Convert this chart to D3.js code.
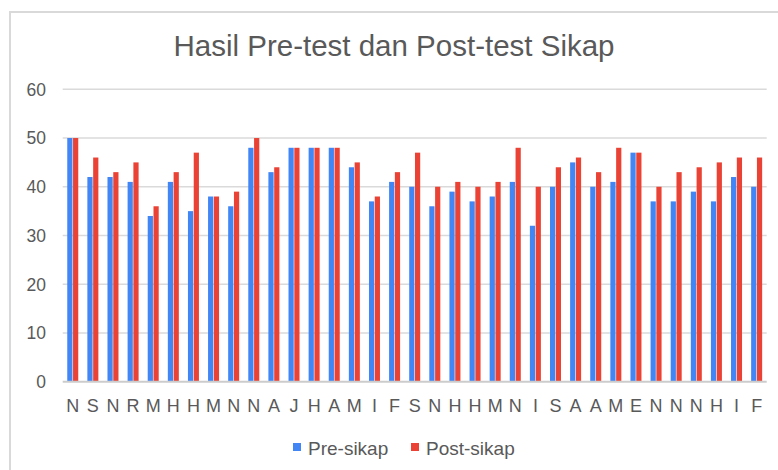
<!DOCTYPE html>
<html>
<head>
<meta charset="utf-8">
<script src="https://cdn.jsdelivr.net/npm/d3@7"></script>
<style>
  body { margin: 0; background: #fff; }
  svg { display: block; font-family: "Liberation Sans", Arial, sans-serif; }
</style>
</head>
<body>
<svg id="chart" width="778" height="470"></svg>
<script>
var categories = ['N','S','N','R','M','H','H','M','N','N','A','J','H','A','M','I','F','S','N','H','H','M','N','I','S','A','A','M','E','N','N','N','H','I','F'];
var preSikap  = [50,42,42,41,34,41,35,38,36,48,43,48,48,48,44,37,41,40,36,39,37,38,41,32,40,45,40,41,47,37,37,39,37,42,40];
var postSikap = [50,46,43,45,36,43,47,38,39,50,44,48,48,48,45,38,43,47,40,41,40,41,48,40,44,46,43,48,47,40,43,44,45,46,46];
var seriesNames = ['Pre-sikap', 'Post-sikap'];
var colors = ['#4285f4', '#ea4335'];
var yTicks = [0, 10, 20, 30, 40, 50, 60];

function drawChart() {
    var svg = d3.select('#chart');
    var textColor = '#595959';

    // outer border
    svg.append('rect')
        .attr('x', 10).attr('y', 12)
        .attr('width', 780).attr('height', 470)
        .attr('fill', '#fff')
        .attr('stroke', '#d9d9d9')
        .attr('stroke-width', 2);

    var plotLeft = 62.7, plotRight = 766.7, plotTop = 89.3, plotBottom = 381.7;

    var x = d3.scaleBand().domain(d3.range(categories.length)).range([plotLeft, plotRight]);
    var xInner = d3.scaleBand().domain(seriesNames).range([0, 11]).paddingInner(0.1);
    var y = d3.scaleLinear().domain([0, 60]).range([plotBottom, plotTop]);

    // title
    svg.append('text')
        .attr('x', 394).attr('y', 56)
        .attr('text-anchor', 'middle')
        .attr('fill', textColor)
        .style('font-size', '29.5px')
        .text('Hasil Pre-test dan Post-test Sikap');

    // gridlines
    svg.append('g').selectAll('line')
        .data(yTicks.filter(d => d > 0))
        .enter().append('line')
        .attr('x1', plotLeft).attr('x2', plotRight)
        .attr('y1', d => y(d)).attr('y2', d => y(d))
        .attr('stroke', '#dadada')
        .attr('stroke-width', 1.5);

    // y tick labels
    svg.append('g').selectAll('text')
        .data(yTicks)
        .enter().append('text')
        .attr('x', 46).attr('y', d => y(d))
        .attr('dy', '0.36em')
        .attr('text-anchor', 'end')
        .attr('fill', textColor)
        .style('font-size', '17.5px')
        .text(d => d);

    // bars
    var rows = categories.map(function (c, i) {
        return { i: i, values: [preSikap[i], postSikap[i]] };
    });
    var groups = svg.append('g').selectAll('g')
        .data(rows)
        .enter().append('g')
        .attr('transform', d => 'translate(' + (x(d.i) + x.bandwidth() / 2 - 5.5) + ',0)');

    groups.selectAll('rect')
        .data(d => d.values.map((v, k) => ({ name: seriesNames[k], v: v, k: k })))
        .enter().append('rect')
        .attr('x', d => xInner(d.name))
        .attr('width', xInner.bandwidth())
        .attr('y', d => y(d.v))
        .attr('height', d => y(0) - y(d.v))
        .attr('fill', d => colors[d.k]);

    // baseline on top of bars
    svg.append('line')
        .attr('x1', plotLeft).attr('x2', plotRight)
        .attr('y1', y(0)).attr('y2', y(0))
        .attr('stroke', '#cccccc').attr('stroke-width', 2);

    // x labels
    svg.append('g').selectAll('text')
        .data(categories)
        .enter().append('text')
        .attr('x', (d, i) => x(i) + x.bandwidth() / 2)
        .attr('y', 412)
        .attr('text-anchor', 'middle')
        .attr('fill', textColor)
        .style('font-size', '18px')
        .text(d => d);

    // legend
    var legendX = [293, 411];
    var legend = svg.append('g').selectAll('g')
        .data(seriesNames)
        .enter().append('g')
        .attr('transform', (d, i) => 'translate(' + legendX[i] + ',0)');
    legend.append('rect')
        .attr('x', 0).attr('y', 443)
        .attr('width', 8).attr('height', 8)
        .attr('fill', (d, i) => colors[i]);
    legend.append('text')
        .attr('x', 15).attr('y', 454.5)
        .attr('fill', textColor)
        .style('font-size', '19px')
        .text(d => d);
}

drawChart();
</script>
</body>
</html>
